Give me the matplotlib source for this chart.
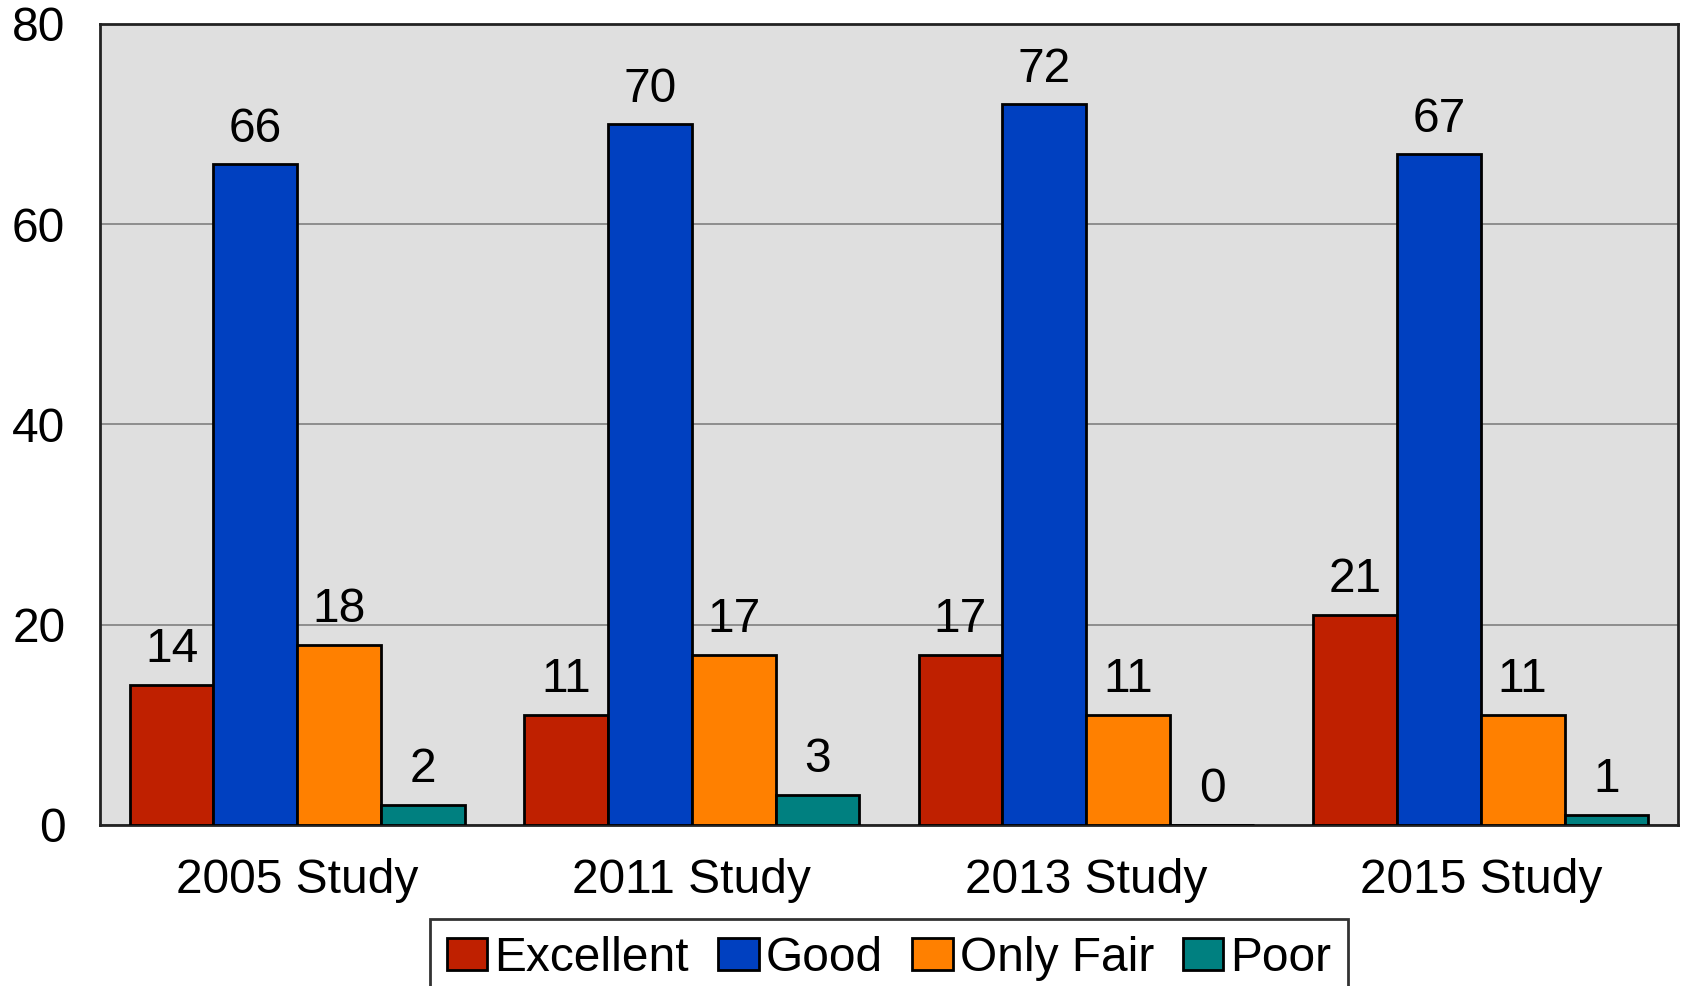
import numpy as np
import matplotlib
matplotlib.use("Agg")
import matplotlib.pyplot as plt

plt.rcParams['font.family'] = ['Liberation Sans', 'DejaVu Sans']

# --- dados ---
studies = ['2005 Study', '2011 Study', '2013 Study', '2015 Study']
series_names = ['Excellent', 'Good', 'Only Fair', 'Poor']
excellent = [14, 11, 17, 21]
good = [66, 70, 72, 67]
only_fair = [18, 17, 11, 11]
poor = [2, 3, 0, 1]
colors = ['#BF2000', '#0040C0', '#FF8000', '#008080']

FS = 34.5

fig = plt.figure(figsize=(16.84, 9.86), dpi=100)
ax = fig.add_axes([0.0594, 0.1633, 0.937, 0.8124])
ax.set_facecolor('#DFDFDF')

x = np.arange(len(studies))
largura = 0.85 / 4
for i, (nome, vals) in enumerate(zip(series_names, [excellent, good, only_fair, poor])):
    pos = x - 0.425 + largura * (i + 0.5)
    barras = ax.bar(pos, vals, width=largura, color=colors[i], edgecolor='black',
                    linewidth=2, label=nome, zorder=3)
    ax.bar_label(barras, padding=9, fontsize=FS, zorder=4)

ax.set_xlim(-0.5, 3.5)
ax.set_ylim(0, 80)
ax.set_yticks([0, 20, 40, 60, 80])
ax.set_xticks(x)
ax.set_xticklabels(studies)
ax.tick_params(axis='both', length=0, labelsize=FS)
ax.tick_params(axis='y', pad=25)
ax.tick_params(axis='x', pad=24)
ax.yaxis.grid(True, color='#808080', linewidth=1.2, zorder=1)
for s in ax.spines.values():
    s.set_linewidth(2)
    s.set_color('#222222')

leg = fig.legend(loc='upper center', bbox_to_anchor=(0.528, 0.068), ncol=4,
                 fontsize=FS, frameon=True, fancybox=False, edgecolor='black',
                 handlelength=0.85, handleheight=0.65, handletextpad=0.15,
                 columnspacing=0.6, borderpad=0.35, borderaxespad=0)
leg.get_frame().set_linewidth(2)

fig.savefig('out.png', dpi=100)
